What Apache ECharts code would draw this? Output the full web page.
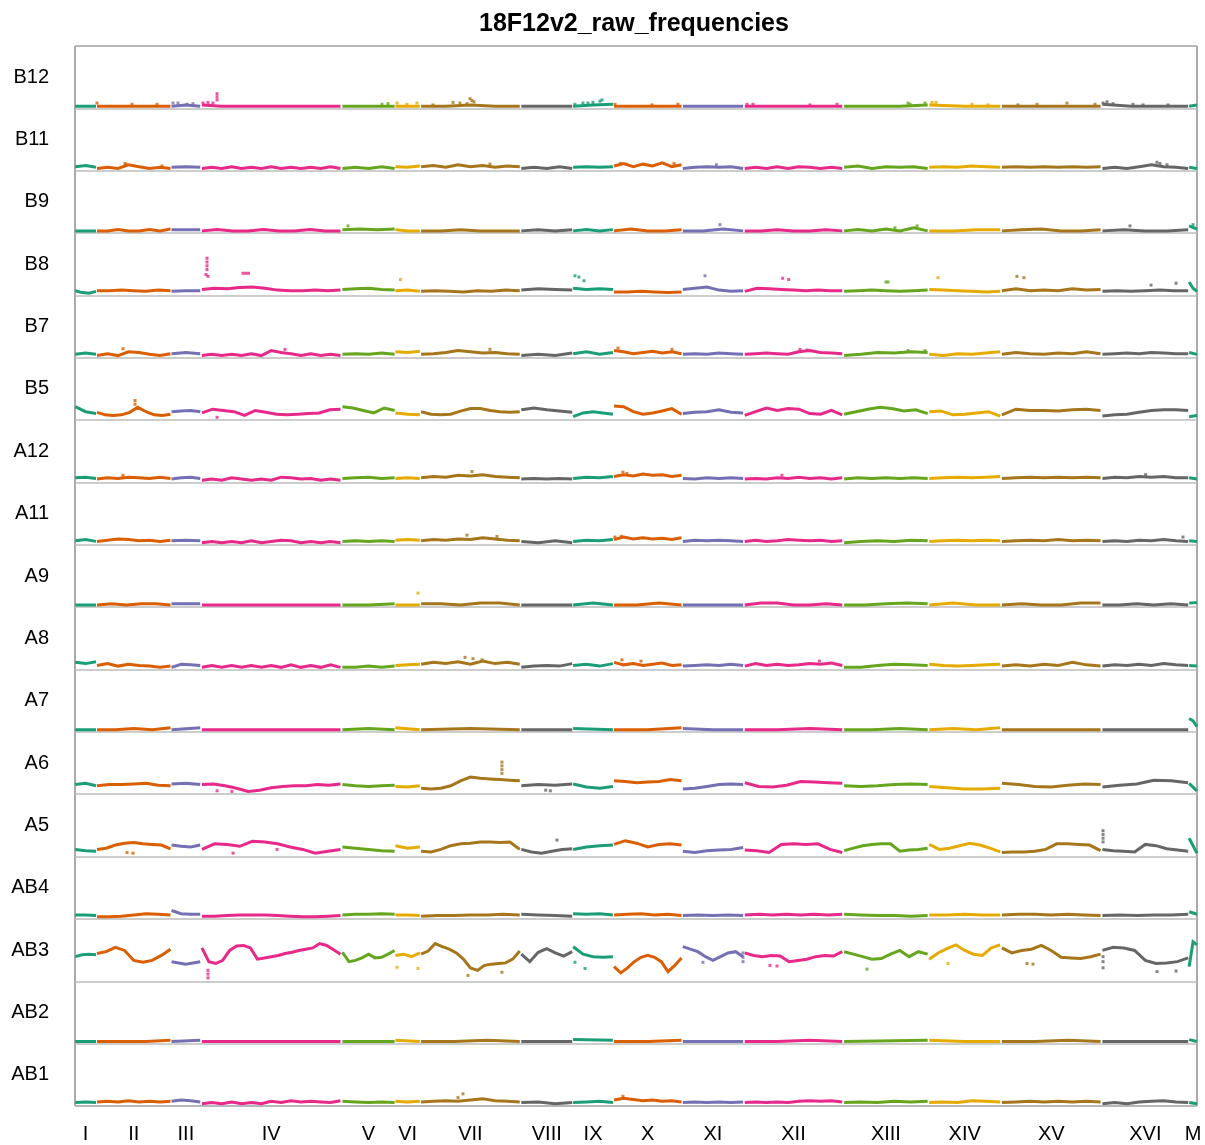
<!DOCTYPE html>
<html><head><meta charset="utf-8">
<script src="https://cdn.jsdelivr.net/npm/echarts@6/dist/echarts.min.js"></script>
<style>html,body{margin:0;padding:0;background:#fff}#c{width:1205px;height:1145px}</style>
</head><body><div id="c"></div>
<script>
// Chromosomes (kb)
const chromNames = ['I','II','III','IV','V','VI','VII','VIII','IX','X','XI','XII','XIII','XIV','XV','XVI','M'];
const chromLengths = [230,813,317,1532,577,270,1091,563,440,746,667,1078,924,784,1091,948,86];
const rowNames = ['B12','B11','B9','B8','B7','B5','A12','A11','A9','A8','A7','A6','A5','AB4','AB3','AB2','AB1'];

// Per-row traces: one list per chromosome, values in % of row height above zero
const B12 = [[0,0],[0,0,0,0],[0,2,0],[2,0,0,0,0,0,0,0],[0,0,0],[0,0],[0,0,2,0,0],[0,0,0],[0,2,3],[0,0,0],[0,0,0],[0,0,0,0],[0,0,0,2],[2,0,0],[0,0,0,0],[3,0,0,0],[0,2]];
const B11 = [[3,5,2],[0,2,0,6,3,0,2,0],[2,3,2],[0,2,0,3,0,2,0,3,0,2,0,2,0,3,0],[0,2,0,3,0],[3,2,4],[3,5,2,6,3,5,2,4,3],[0,2,0,3,0],[2,3,2,3],[4,8,3,7,4,9,3,6],[0,2,3,2,3,0],[0,2,0,3,0,3,2,0,2,0],[2,4,0,3,2,3,0],[2,3,2,4,3,2],[2,3,2,3,2,3,2,3],[0,2,0,3,6,3,2,0],[2,0]];
const B9 = [[0,0],[0,0,2,0,0,2,0,3],[2,2,2],[0,2,0,0,2,0,0,2,0,0],[2,3,2,3],[2,0,0],[0,0,2,0,0,0],[0,2,0,2],[0,2,0,2],[0,3,0,0,2],[0,0,3,0],[0,0,2,0,0,2,0],[0,2,0,3,0,5,0],[0,0,2,2],[0,2,3,0,0,2],[0,2,0,0,2],[8,3]];
const B8 = [[4,1,0,3],[4,4,5,4,3,5,4],[3,4,4],[6,8,7,9,10,8,5,4,4,5,4,5],[6,7,8,6,5],[4,5,3],[3,4,3,2,4,3,5,4],[5,7,6,5],[8,6,7,6],[2,2,3,2,1,2],[6,8,10,5,3,4],[3,8,7,6,5,4,5,4,4],[3,4,5,4,3,4,5],[6,5,4,3,2,3],[4,7,4,5,4,7,5,6],[3,4,3,4,5,4,4],[18,8,3]];
const B7 = [[2,4,2],[0,3,0,6,5,2,0,3],[3,5,3],[0,2,0,2,0,3,0,8,5,3,0,3,0,2,0],[2,3,2,4,2],[6,5,7],[2,3,5,8,6,4,5,3,2],[0,2,0,4],[3,6,2,5],[8,6,3,5,7,4,6,3],[2,3,2,4,3,2],[2,3,4,3,2,6,8,5,4,3],[0,2,5,4,6,5],[2,0,3,2,4,6],[2,5,3,2,4,3,6,3],[2,3,4,3,5,4,3,3],[5,2]];
const B5 = [[18,10,7],[9,5,4,5,9,17,10,5,4,6],[10,11,12,10],[8,14,12,10,4,12,9,6,5,6,7,8,13,14],[18,16,12,8,16,12],[8,6,5],[10,6,5,6,11,15,15,12,10,9,10],[13,16,13,11,9],[2,8,10,8,6],[19,18,10,6,8,11,15,6],[7,9,10,13,9,8],[4,10,16,12,15,14,7,6,12,5],[6,10,14,17,15,11,13,7],[10,11,5,6,8,10,3],[5,14,12,12,11,13,14,12],[3,5,6,9,12,13,13,12],[2,4]];
const A12 = [[4,5,3],[2,4,3,5,4,3,5,3],[2,4,5,3],[0,2,0,4,2,0,2,0,5,4,2,3,0,2,0],[3,4,5,3,4],[3,4,3],[4,6,5,8,7,9,6,5,4],[2,3,2,3,2],[3,5,4,6],[6,9,7,10,8,9,6,8],[3,2,4,3,4,3],[2,3,2,4,3,5,3,4,2,4],[2,4,3,4,3,4,3],[3,4,5,4,5,6],[3,4,5,4,5,4,5,4],[3,5,4,6,5,6,4,4],[4,2]];
const A11 = [[3,5,2],[2,4,6,5,3,4,2,4],[3,4,3],[0,2,0,2,0,3,0,2,4,3,0,2,0,2,0],[2,3,2,3,2],[4,5,4],[3,5,4,6,5,8,6,4,3],[2,0,3,0],[2,4,3,5],[5,9,6,8,6,7,5,8],[2,4,3,4,3,2],[2,4,2,3,5,4,3,4,2,3],[0,2,3,2,4,3],[2,3,4,3,4,3],[2,3,4,3,5,3,4,3],[2,3,2,4,3,5,3,2],[3,2]];
const A9 = [[0,0],[0,2,0,2,2,0],[2,2],[0,0,0,0,0,0],[0,0,2],[0,0],[2,2,0,3,3,0],[0,0],[0,3,0],[0,0,3,0],[0,0],[0,3,3,0,0,2,0],[0,0,2,3,2],[0,3,0,0],[0,2,0,0,3,3],[0,0,2,0,2,0],[3,4]];
const A8 = [[8,6,9],[3,6,2,5,3,2,0,2],[0,5,4,3],[0,3,0,3,0,3,0,3,0,4,0,3,0,4,0],[0,0,2,0,2],[3,4,5],[5,8,6,9,5,10,6,8,5],[0,2,3,2,6],[3,5,2,6],[8,4,6,3,5,7,3,4],[2,3,4,3,5,3],[2,6,3,5,3,4,6,5,7,3],[0,0,3,5,4,3],[5,3,2,3,4,5],[2,4,2,5,3,8,4,2],[2,4,3,5,3,6,4,3],[3,2]];
const A7 = [[0,0],[0,0,2,0,3],[0,3],[0,0,0,0],[0,2,0],[3,0],[0,2,0],[0,0],[2,0],[0,0,3],[2,0,0],[0,0,2,0],[0,0,2,0],[0,2,0,3],[0,0,0],[0,0,0,0],[18,14,5]];
const A6 = [[12,14,10],[10,12,12,13,14,11,10],[13,14,12],[12,13,10,6,1,3,7,9,10,10,12,11,13],[12,10,9,10,11],[9,8,10],[6,5,6,10,18,24,22,21,20,19,18],[10,12,11,13],[13,8,6,9],[18,17,15,16,17,20,18],[5,6,9,12,13,12],[15,9,8,11,17,16,15,14],[10,9,10,12,13,12],[9,7,5,5,6],[14,12,9,8,11,13,12],[8,11,13,19,18,15],[14,2]];
const A5 = [[8,6,5],[8,10,15,18,19,17,16,15,9],[15,13,12,15],[8,17,16,13,21,20,17,12,8,2,5,8],[12,10,8,6,5],[14,10,12],[5,4,8,14,17,18,20,20,19,20,8],[8,4,2,5,8,9],[8,12,14,15],[16,22,18,12,16,17,15],[5,3,6,7,8,11],[7,6,3,16,17,16,17,8,3],[6,10,14,16,17,17,5,7,8,10],[16,8,10,14,18,15,10,4],[3,4,4,5,8,17,17,16,15,6],[8,6,5,4,16,14,9,7,5],[26,2]];
const AB4 = [[3,3,2],[0,0,1,3,5,4,3],[10,5,4,4],[1,1,2,3,3,3,2,1,0,0,1,2],[3,4,4,5,4],[3,3,2],[1,2,2,3,3,4,3],[4,3,2,1],[5,4,5,3],[3,4,5,3,4,2],[2,3,2,3,2],[3,4,3,4,3,4,3,4],[4,3,2,2,1,2],[3,3,4,3,3],[3,4,4,3,4,3,2],[2,3,2,3,3,4],[8,4]];
const AB3 = [[36,39,40,39],[41,44,51,46,30,27,30,38,48],[28,26,24,26,28],[50,28,25,30,46,53,54,50,32,34,36,38,41,43,46,48,50,57,54,47,40],[43,28,30,34,40,34,35,40,46],[38,40,36,42],[40,45,57,52,48,42,32,18,14,22,24,25,26,32,45],[40,28,43,49,42,37,44],[52,40,36,35,36],[20,10,18,28,35,38,35,28,12,22,34],[52,48,44,36,30,36,42,44,36],[42,38,36,38,37,28,30,32,36,38,37,44],[44,40,36,32,33,40,46,36,44,40],[32,42,49,55,46,40,38,50,55],[50,42,46,48,54,46,35,34,33,36,40],[46,51,50,46,30,25,26,28,34],[20,60,55]];
const AB2 = [[0,0],[0,0,0,2],[0,2],[0,0,0,0],[0,0],[2,0],[0,0,2,0],[0,0],[3,2],[0,0,2],[0,0],[0,0,2,0],[0,2],[2,0,0],[0,0,2,0],[0,0],[3,0]];
const AB1 = [[2,3,2],[3,4,3,5,3,4,3,4],[4,6,5,3],[0,2,0,3,0,2,0,4,2,5,3,4,3,2,5],[4,3,2,3,2],[4,3,4],[3,4,5,4,6,8,5,4,3],[2,3,0,2],[2,3,4,2],[6,9,7,5,6,4,5,3],[2,3,2,3,2,3],[2,3,2,3,2,4,5,4,5,3],[2,3,2,4,3,4],[2,3,2,5,4,3],[2,3,4,3,4,3,4,3],[0,2,0,3,4,5,3,2],[2,0]];

// Scattered points per row: [genome position kb, % of row height]
const dotsB12 = [[238,5],[618,3],[888,3],[1062,5],[1116,5],[1213,3],[1278,4],[1387,5],[1441,6],[1495,5],[1539,20],[1539,15],[1539,10],[3326,3],[3391,4],[3489,5],[3597,3],[3705,5],[3879,2],[4096,6],[4171,5],[4247,4],[4280,12],[4301,9],[4323,7],[5417,3],[5504,5],[5558,5],[5612,6],[5688,8],[5710,10],[5851,3],[6252,2],[6533,3],[7281,3],[7346,3],[7964,2],[8256,3],[9026,5],[9047,3],[9210,5],[9286,6],[9329,6],[9719,3],[9892,2],[10217,2],[10423,3],[10748,5],[11052,3],[11139,5],[11182,7],[11247,4],[11463,3],[11572,2],[11843,2]];
const dotsB11 = [[542,8],[553,6],[943,4],[4496,7],[5910,8],[5975,7],[6490,8],[6950,6],[11723,10],[11756,8],[11832,6]];
const dotsB9 = [[2958,8],[6988,10],[8885,5],[9123,8],[11431,8],[12114,10]];
const dotsB8 = [[1430,56],[1430,50],[1430,44],[1430,38],[1420,30],[1441,27],[1820,32],[1850,32],[1880,32],[3526,22],[5417,28],[5460,26],[5515,20],[6826,28],[7668,24],[7733,22],[8787,18],[8809,18],[9351,25],[10206,27],[10282,25],[11659,13],[11930,16]];
const dotsB7 = [[520,11],[2275,10],[4496,10],[5883,12],[6468,10],[7855,10],[7931,9],[9026,8],[9210,8]];
const dotsB5 = [[650,28],[650,22],[1539,1]];
const dotsA12 = [[520,8],[4301,14],[5937,13],[5980,11],[7660,8],[11600,9]];
const dotsA11 = [[4247,12],[4572,10],[5850,9],[5920,10],[12005,9]];
const dotsA9 = [[3716,19]];
const dotsA8 = [[4226,16],[4312,14],[4410,12],[5926,12],[6132,10],[8065,10]];
const dotsA7 = [];
const dotsA6 = [[4626,48],[4626,42],[4626,36],[4626,30],[1539,2],[1700,1],[5100,3],[5150,2]];
const dotsA5 = [[11139,38],[11139,32],[11139,26],[11139,20],[5222,23],[564,3],[628,2],[1712,2],[2189,8]];
const dotsAB4 = [];
const dotsAB3 = [[1441,2],[1441,8],[1441,14],[3489,19],[3716,17],[4258,6],[4626,11],[5417,27],[5526,17],[6804,27],[7238,28],[7238,35],[7238,42],[7530,22],[7606,21],[8581,16],[9459,25],[10315,25],[10380,24],[11723,12],[11930,13],[11139,18],[11139,28],[11139,36]];
const dotsAB2 = [];
const dotsAB1 = [[4204,16],[5937,12],[4150,10]];

const traceData = {B12,B11,B9,B8,B7,B5,A12,A11,A9,A8,A7,A6,A5,AB4,AB3,AB2,AB1};
const dotData = {B12:dotsB12,B11:dotsB11,B9:dotsB9,B8:dotsB8,B7:dotsB7,B5:dotsB5,A12:dotsA12,A11:dotsA11,A9:dotsA9,A8:dotsA8,A7:dotsA7,A6:dotsA6,A5:dotsA5,AB4:dotsAB4,AB3:dotsAB3,AB2:dotsAB2,AB1:dotsAB1};

const palette = ['#1B9E77','#D95F02','#7570B3','#E7298A','#66A61E','#E6AB02','#A6761D','#666666'];
const ZERO = 0.035;

const starts = []; let acc = 0;
chromLengths.forEach(l => { starts.push(acc); acc += l; });
const total = acc;
const mids = chromLengths.map((l, i) => starts[i] + l / 2);
function chromOf(kb) { for (let i = chromLengths.length - 1; i >= 0; i--) if (kb >= starts[i]) return i; return 0; }

const nRows = rowNames.length;
const series = [];
rowNames.forEach((name, r) => {
  const base = nRows - 1 - r;
  traceData[name].forEach((vals, c) => {
    const n = vals.length;
    const data = vals.map((v, j) => [starts[c] + chromLengths[c] * (0.01 + 0.98 * (n > 1 ? j / (n - 1) : 0.5)), base + ZERO + v / 100]);
    series.push({type: 'line', data, symbol: 'none', silent: true, animation: false, z: 3,
      lineStyle: {width: 3, color: palette[c % 8], join: 'miter', cap: 'butt'}});
  });
  const d = dotData[name];
  if (d.length) series.push({type: 'scatter', silent: true, animation: false, z: 4, symbol: 'rect', symbolSize: 3,
    data: d.map(p => [p[0], base + ZERO + p[1] / 100]),
    itemStyle: {color: p => palette[chromOf(p.value[0]) % 8]}});
});

const chart = echarts.init(document.getElementById('c'), null, {renderer: 'canvas'});
chart.setOption({
  backgroundColor: '#fff',
  animation: false,
  title: {text: '18F12v2_raw_frequencies', left: 474, top: 7,
    textStyle: {fontSize: 25, fontWeight: 'bold', color: '#000', fontFamily: 'Liberation Sans, Arial, sans-serif'}},
  grid: {left: 75, right: 8, top: 46, bottom: 39, show: true, borderColor: '#555', borderWidth: 1, backgroundColor: 'transparent'},
  xAxis: {type: 'value', min: 0, max: total,
    axisLine: {show: false}, axisTick: {show: false}, splitLine: {show: false},
    axisLabel: {customValues: mids, margin: 18, fontSize: 20, color: '#000', fontFamily: 'Liberation Sans, Arial, sans-serif',
      formatter: v => { const i = mids.findIndex(m => Math.abs(m - v) < 1); return i >= 0 ? chromNames[i] : ''; }}},
  yAxis: {type: 'value', min: 0, max: nRows, interval: 1,
    axisLine: {show: false}, axisTick: {show: false},
    splitLine: {show: true, lineStyle: {color: '#bdbdbd', width: 1.5}},
    axisLabel: {customValues: rowNames.map((_, r) => nRows - 1 - r + 0.5), margin: 26, fontSize: 20, color: '#000',
      fontFamily: 'Liberation Sans, Arial, sans-serif',
      formatter: v => rowNames[nRows - 1 - Math.floor(v)] || ''}},
  series
});
</script></body></html>
